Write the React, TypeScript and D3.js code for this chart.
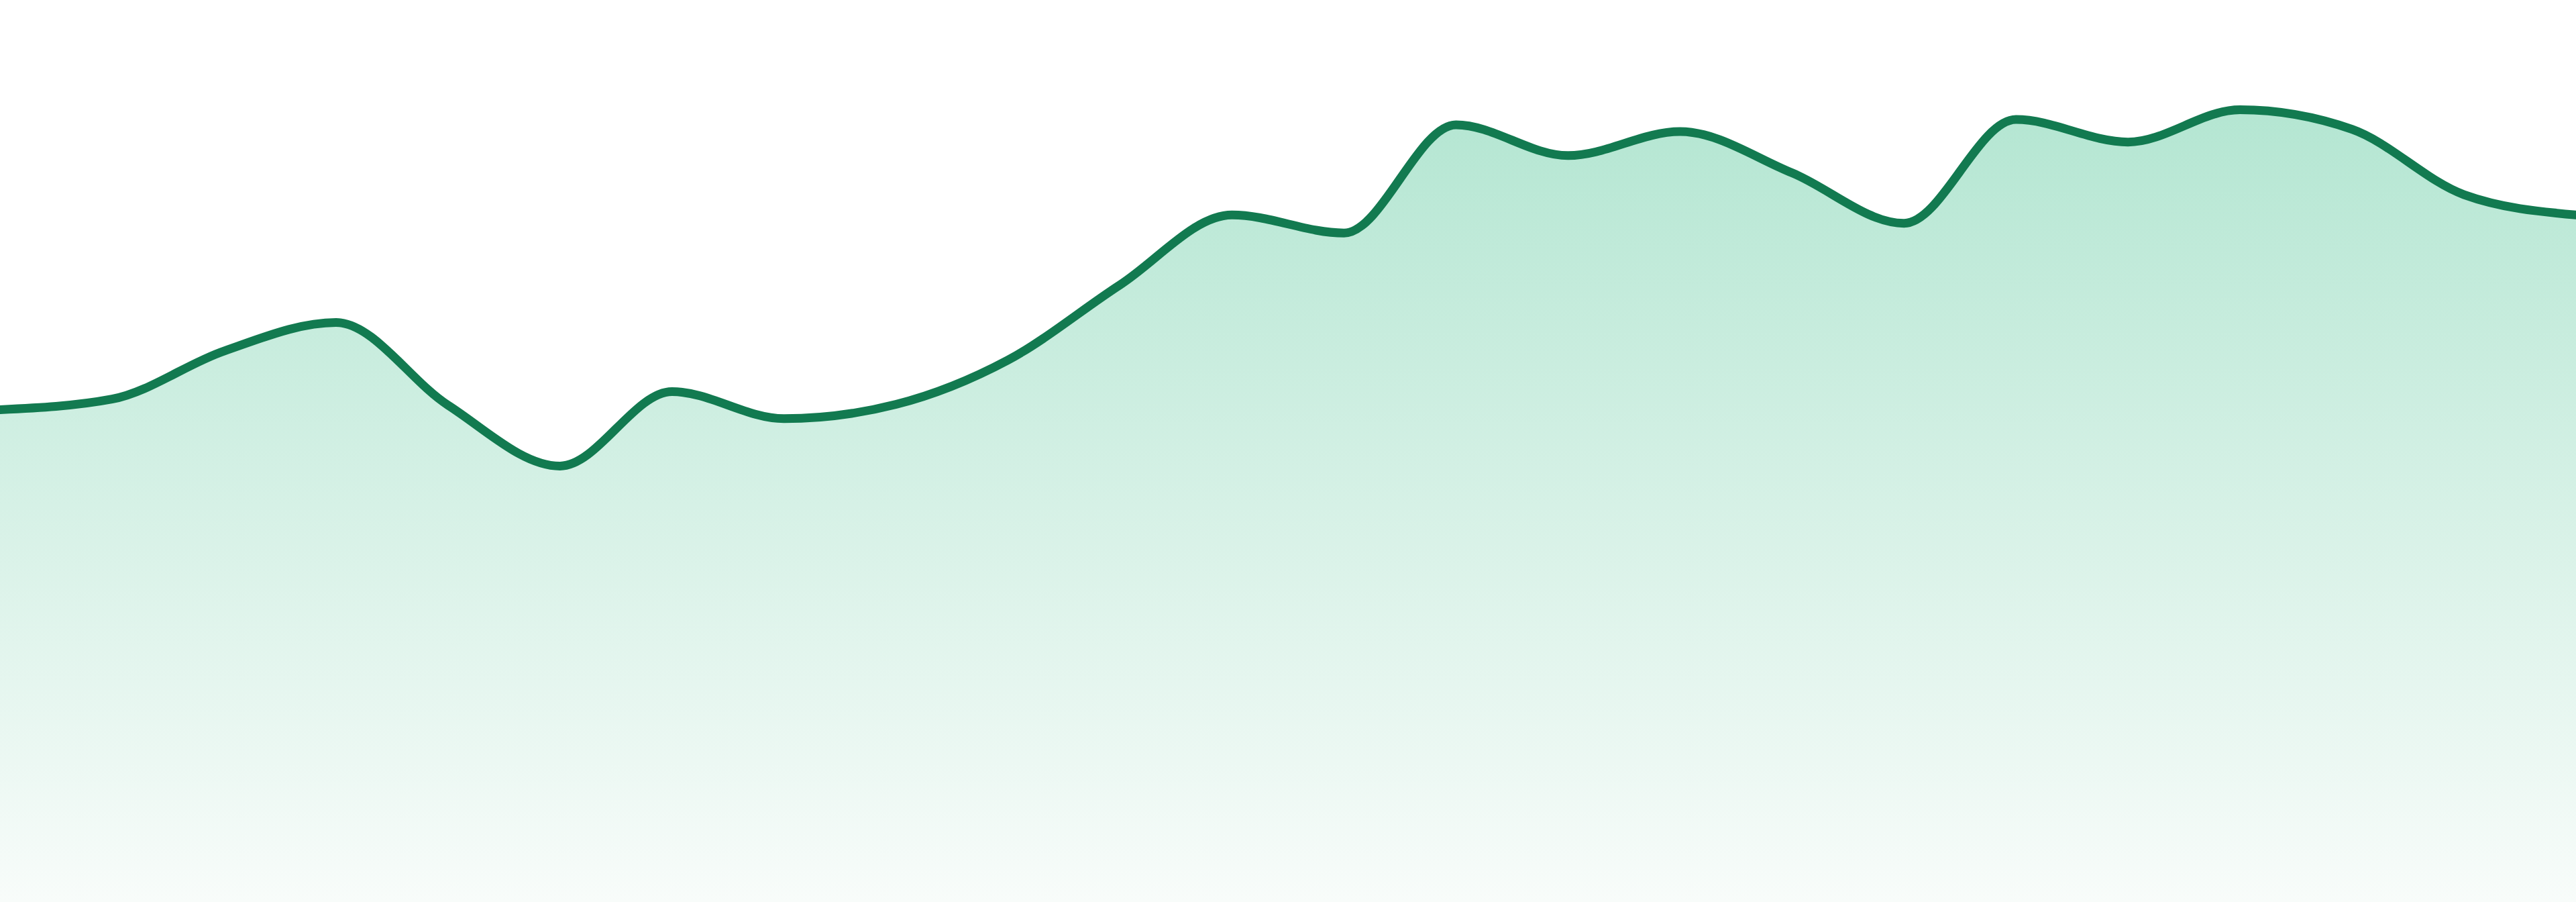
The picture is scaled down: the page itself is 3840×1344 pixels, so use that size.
import React, { useEffect } from "react";
import * as d3 from "d3";

const WIDTH = 3840;
const HEIGHT = 1344;

const categories: string[] = [
  "P01", "P02", "P03", "P04", "P05", "P06", "P07", "P08",
  "P09", "P10", "P11", "P12", "P13", "P14", "P15", "P16",
  "P17", "P18", "P19", "P20", "P21", "P22", "P23", "P24",
];

const values: number[] = [
  65.5, 66.9, 73.3, 77.1, 66.1, 58.0, 67.9, 64.3,
  66.2, 72.1, 82.1, 91.4, 89.0, 103.4, 99.3, 102.5,
  97.0, 90.3, 104.1, 101.1, 105.4, 102.8, 94.1, 91.4,
];

const yDomain: [number, number] = [0, 120];

export default function App() {
  useEffect(() => {
    document.body.style.margin = "0";
    document.body.style.overflow = "hidden";
  }, []);

  const x = d3.scalePoint<string>().domain(categories).range([0, WIDTH]);
  const y = d3.scaleLinear().domain(yDomain).range([HEIGHT, 0]);

  const data = categories.map((c, i) => ({ c, v: values[i] }));

  const area = d3
    .area<{ c: string; v: number }>()
    .x((d) => x(d.c) as number)
    .y0(y(0))
    .y1((d) => y(d.v))
    .curve(d3.curveMonotoneX);

  const line = d3
    .line<{ c: string; v: number }>()
    .x((d) => x(d.c) as number)
    .y((d) => y(d.v))
    .curve(d3.curveMonotoneX);

  const topY = y(d3.max(values) as number);

  return (
    <svg
      width={WIDTH}
      height={HEIGHT}
      style={{ position: "absolute", left: 0, top: 0, display: "block", background: "#ffffff" }}
    >
      <defs>
        <linearGradient id="areaGrad" gradientUnits="userSpaceOnUse" x1={0} x2={0} y1={topY} y2={HEIGHT}>
          <stop offset="0%" stopColor="#b4e6d2" />
          <stop offset="100%" stopColor="#f8fcfa" />
        </linearGradient>
      </defs>
      <path d={area(data) || ""} fill="url(#areaGrad)" />
      <path
        d={line(data) || ""}
        fill="none"
        stroke="#127a50"
        strokeWidth={13}
        strokeLinejoin="round"
        strokeLinecap="round"
      />
    </svg>
  );
}
